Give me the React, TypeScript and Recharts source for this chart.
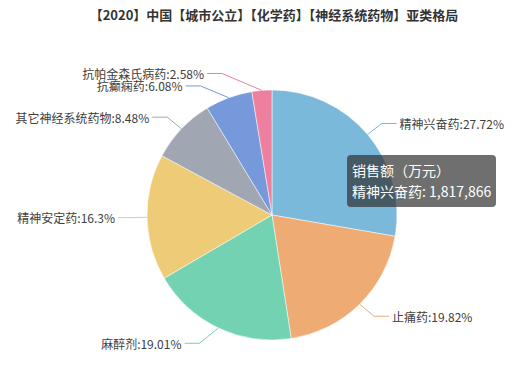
import { PieChart, Pie, Cell, Tooltip } from 'recharts';

const title = '【2020】中国【城市公立】【化学药】【神经系统药物】亚类格局';
const seriesName = '销售额（万元）';
const names = ['精神兴奋药', '止痛药', '麻醉剂', '精神安定药', '其它神经系统药物', '抗癫痫药', '抗帕金森氏病药'];
const sales = [1817866, 1299800, 1246700, 1069000, 556100, 398700, 169200];
const colors = ['#7ab9da', '#eeab74', '#72d2b2', '#eecb76', '#a0a6b2', '#7699db', '#ee7f9f'];

const data = names.map((name, i) => ({ name, value: sales[i] }));
const total = sales.reduce((a, b) => a + b, 0);

const font = '"Noto Sans CJK SC", "Noto Sans", sans-serif';
const CX = 272;
const CY = 215;
const R = 125;
const LEN = 17;
const REACH = 157;
const LINE_H = 12.5;

// echarts-like label placement: radial line, then horizontal, with overlap push
const layoutLabels = () => {
	let acc = 0;
	const items = sales.map((v, i) => {
		const mid = 90 - ((acc + v / 2) / total) * 360;
		acc += v;
		const rad = (mid * Math.PI) / 180;
		const cos = Math.cos(rad);
		const sin = Math.sin(rad);
		return {
			i,
			dir: cos >= 0 ? 1 : -1,
			x0: CX + R * cos,
			y0: CY - R * sin,
			x1: CX + (R + LEN) * cos,
			y: CY - (R + LEN) * sin,
			tx: 0,
		};
	});
	[1, -1].forEach((dir) => {
		const side = items.filter((d) => d.dir === dir).sort((a, b) => a.y - b.y);
		for (let k = 1; k < side.length; k++) {
			if (side[k].y - side[k - 1].y < LINE_H) side[k].y = side[k - 1].y + LINE_H;
		}
	});
	items.forEach((d) => {
		const dy = Math.abs(d.y - CY);
		const dx = dy < R + LEN ? Math.sqrt(REACH * REACH - dy * dy) : Math.abs(d.x1 - CX) + REACH - R - LEN;
		d.tx = CX + d.dir * dx;
	});
	return items;
};

const labels = layoutLabels();

const renderLabel = (props: any) => {
	const d = labels[props.index];
	const pct = Math.round((sales[props.index] / total) * 10000) / 100;
	const color = colors[props.index];
	const end = d.tx - d.dir * 3;
	const midX = d.tx - d.dir * 18;
	return (
		<g>
			<polyline
				points={`${d.x0},${d.y0} ${midX},${d.y} ${end},${d.y}`}
				fill='none'
				stroke={color}
				strokeWidth={1}
			/>
			<text
				x={d.tx}
				y={d.y}
				textAnchor={d.dir > 0 ? 'start' : 'end'}
				dominantBaseline='central'
				fontSize={12}
				fill='#404040'
				fontFamily={font}
			>
				{`${names[props.index]}:${pct}%`}
			</text>
		</g>
	);
};

const TipContent = ({ active, payload }: any) => {
	if (!active || !payload || !payload.length) return null;
	const p = payload[0];
	return (
		<div
			style={{
				background: 'rgba(50,50,50,0.7)',
				borderRadius: 4,
				padding: 5,
				color: '#fff',
				fontSize: 14,
				lineHeight: '21px',
				fontFamily: font,
				whiteSpace: 'nowrap',
			}}
		>
			<div>{seriesName}</div>
			<div>
				{p.name}: {Number(p.value).toLocaleString('en-US')}
			</div>
		</div>
	);
};

export default function App() {
	return (
		<div style={{ position: 'absolute', left: 0, top: 0, width: 523, height: 367, background: '#fff' }}>
			<div
				style={{
					position: 'absolute',
					left: 0,
					top: 6,
					width: 548,
					textAlign: 'center',
					fontSize: 13,
					fontWeight: 'bold',
					color: '#333',
					fontFamily: font,
					lineHeight: '18px',
				}}
			>
				{title}
			</div>
			<PieChart width={523} height={367} margin={{ top: 0, right: 0, bottom: 0, left: 0 }}>
				<Pie
					data={data}
					dataKey='value'
					nameKey='name'
					cx={CX}
					cy={CY}
					outerRadius={R}
					startAngle={90}
					endAngle={-270}
					stroke='#fff'
					strokeWidth={0.5}
					label={renderLabel}
					labelLine={false}
					isAnimationActive={false}
				>
					{data.map((d, i) => (
						<Cell key={d.name} fill={colors[i]} />
					))}
				</Pie>
				<Tooltip
					active
					defaultIndex={0}
					position={{ x: 347, y: 155 }}
					content={<TipContent />}
					isAnimationActive={false}
					wrapperStyle={{ outline: 'none' }}
				/>
			</PieChart>
		</div>
	);
}
